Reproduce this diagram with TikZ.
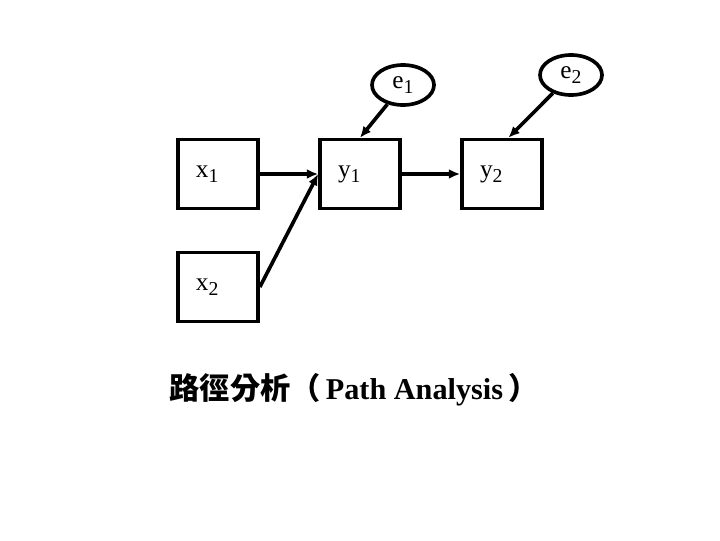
\documentclass[tikz,border=0pt]{standalone}
\usepackage{fontspec}
\setmainfont{Liberation Serif}
\newfontfamily\cjk{Noto Sans CJK TC}
\usetikzlibrary{shapes.geometric, arrows.meta}

\newcommand{\lowsub}[1]{\raisebox{-0.45ex}{\fontsize{14}{14}\selectfont #1}}

\tikzset{
  obs/.style = {draw, line width = 2.6pt, minimum width = 2cm, minimum height = 1.72cm,
    inner xsep = 0.45cm, text width = 1.1cm, align = left, font = \fontsize{18}{20}\selectfont},
  err/.style = {draw, ellipse, line width = 2.6pt, minimum width = 1.55cm, minimum height = 1cm,
    inner sep = 0pt, font = \fontsize{18}{20}\selectfont},
  causal/.style = {line width = 2.6pt, -{Latex[length = 8pt, width = 7pt]}}
}

\begin{document}
\begin{tikzpicture}[x = 0.025cm, y = -0.025cm]
\useasboundingbox (0,0) rectangle (720,540);

\node[obs] (X1) at (218,174) {x\lowsub{1}};
\node[obs] (X2) at (218,287) {x\lowsub{2}};
\node[obs] (Y1) at (360,174) {y\lowsub{1}};
\node[obs] (Y2) at (502,174) {y\lowsub{2}};
\node[err] (E1) at (403,85) {e\lowsub{1}};
\node[err] (E2) at (571,75) {e\lowsub{2}};

\draw[causal] (X1.east) -- (Y1.west);
\draw[causal] (X2.east) -- (Y1.west);
\draw[causal] (Y1.east) -- (Y2.west);
\draw[causal] (E1) -- (Y1.north);
\draw[causal] (E2) -- (Y2.80);

\node (TITLE) at (354,390) {\fontsize{21.5}{24}\selectfont\bfseries{\cjk 路徑分析（}\,Path Analysis\,{\cjk ）}};
\end{tikzpicture}
\end{document}
